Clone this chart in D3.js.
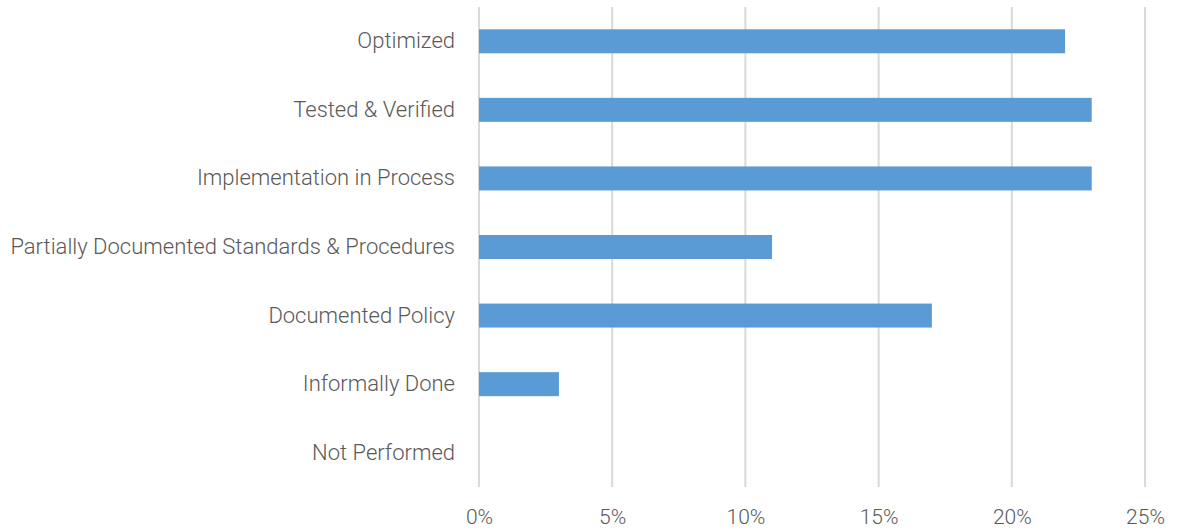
<!DOCTYPE html>
<html>
<head>
<meta charset="utf-8">
<script src="https://cdn.jsdelivr.net/npm/d3@7/dist/d3.min.js"></script>
<style>
  html, body { margin: 0; padding: 0; background: #fff; }
  svg text { font-family: "Roboto", "Noto Sans", sans-serif; font-weight: 300; fill: #595959; }
</style>
</head>
<body>
<svg id="chart" width="1177" height="531"></svg>
<script>
// Maturity levels, top to bottom
const categories = [
  "Optimized",
  "Tested & Verified",
  "Implementation in Process",
  "Partially Documented Standards & Procedures",
  "Documented Policy",
  "Informally Done",
  "Not Performed"
];
// Share of respondents (%)
const values = [22, 23, 23, 11, 17, 3, 0];
const xTicks = [0, 5, 10, 15, 20, 25];

const svg = d3.select("#chart");
const margin = { top: 7, right: 32, bottom: 44, left: 479 };
const width = 1177 - margin.left - margin.right;
const height = 531 - margin.top - margin.bottom;

const x = d3.scaleLinear().domain([0, 25]).range([0, width]);
const y = d3.scaleBand().domain(categories).range([0, height]).paddingInner(0.65).paddingOuter(0.325);

const g = svg.append("g").attr("transform", `translate(${margin.left},${margin.top})`);

// vertical gridlines
g.selectAll("line.grid").data(xTicks).join("line")
  .attr("class", "grid")
  .attr("x1", d => x(d)).attr("x2", d => x(d))
  .attr("y1", 0).attr("y2", height)
  .attr("stroke", "#d9d9d9").attr("stroke-width", 2);

// bars
g.selectAll("rect.bar").data(categories).join("rect")
  .attr("class", "bar")
  .attr("x", x(0))
  .attr("y", d => y(d))
  .attr("width", (d, i) => x(values[i]) - x(0))
  .attr("height", y.bandwidth())
  .attr("fill", "#5b9bd5");

// category labels
const yAxis = d3.axisLeft(y).tickSize(0).tickPadding(24);
g.append("g").call(yAxis)
  .call(s => s.select(".domain").remove())
  .selectAll("text").attr("font-size", 22).style("fill", "#595959");

// x tick labels
const xAxis = d3.axisBottom(x).tickValues(xTicks).tickFormat(d => d + "%").tickSize(0).tickPadding(22);
g.append("g").attr("transform", `translate(0,${height})`).call(xAxis)
  .call(s => s.select(".domain").remove())
  .selectAll("text").attr("font-size", 21).style("fill", "#595959");
</script>
</body>
</html>
